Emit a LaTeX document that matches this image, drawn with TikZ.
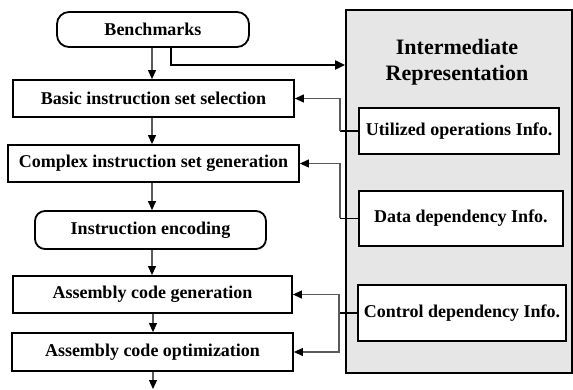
\documentclass[tikz,border=0pt]{standalone}
\usepackage{fontspec}
\setmainfont{Liberation Serif}
\usetikzlibrary{arrows.meta,calc}
\definecolor{irgray}{HTML}{E6E6E6}
\definecolor{linegray}{HTML}{5A5A5A}
\begin{document}
\begin{tikzpicture}[x=1pt,y=-1pt,
  box/.style={draw=black,line width=1.8pt,fill=white,inner sep=0pt,
    font=\fontsize{18}{20}\selectfont\bfseries,align=center},
  term/.style={box,rounded corners=12pt},
  conn/.style={draw=linegray,line width=1.1pt,
    -{Triangle[length=9pt,width=8pt,color=black]}},
  bigconn/.style={draw=black,line width=2pt,
    -{Triangle[length=10pt,width=9pt]}},
  plain/.style={draw=black,line width=1.1pt}]
\useasboundingbox (0,0) rectangle (573,390);

% intermediate representation panel
\node[draw=black,line width=1.8pt,fill=irgray,minimum width=226pt,minimum height=363pt,inner sep=0pt]
  (ir) at (459,191.5) {};
\node[font=\fontsize{22}{26}\selectfont\bfseries,align=center] (irtitle) at (457,62)
  {Intermediate\\Representation};
\node[box,minimum width=200pt,minimum height=46pt] (util) at (459,131) {Utilized operations Info.};
\node[box,minimum width=204pt,minimum height=55pt] (data) at (461,218.5) {Data dependency Info.};
\node[box,minimum width=208pt,minimum height=56pt] (ctrl) at (462,313) {Control dependency Info.};

% main flow
\node[term,minimum width=192pt,minimum height=35pt] (bench) at (153,29.5) {Benchmarks};
\node[box,minimum width=281pt,minimum height=37pt] (basic) at (153.5,98.5) {Basic instruction set selection};
\node[box,minimum width=291pt,minimum height=37pt] (complex) at (153.5,163.5) {Complex instruction set generation};
\node[term,rounded corners=10pt,minimum width=231pt,minimum height=38pt] (enc) at (150.5,230) {Instruction encoding};
\node[box,minimum width=279pt,minimum height=37pt] (asmgen) at (152.5,294.5) {Assembly code generation};
\node[box,minimum width=281pt,minimum height=38pt] (asmopt) at (152.5,352) {Assembly code optimization};

% vertical flow arrows
\draw[conn] (bench.south -| 152,0) -- (basic.north -| 152,0);
\draw[conn] (basic.south -| 152,0) -- (complex.north -| 152,0);
\draw[conn] (complex.south -| 152,0) -- (enc.north -| 152,0);
\draw[conn] (enc.south -| 152,0) -- (asmgen.north -| 152,0);
\draw[conn] (asmgen.south -| 153,0) -- (asmopt.north -| 153,0);
\coordinate (out) at (153,389);
\draw[conn] (asmopt.south -| out) -- (out);

% benchmarks feed the intermediate representation
\coordinate (tap) at (171,47);
\coordinate (bend) at (171,65);
\draw[bigconn] (tap) -- (bend) -- (bend -| ir.west);

% information fed back to the flow
\coordinate (ja) at (340,131);
\coordinate (jb) at (340,218.5);
\coordinate (jc) at (339,313);
\draw[plain] (util.west) -- (ja);
\draw[conn] (ja) |- (basic.east);
\draw[plain] (data.west) -- (jb);
\draw[conn] (jb) |- (complex.east);
\draw[plain] (ctrl.west) -- (jc);
\draw[conn] (jc) |- (asmgen.east);
\draw[conn] (jc) |- (asmopt.east);
\end{tikzpicture}
\end{document}
